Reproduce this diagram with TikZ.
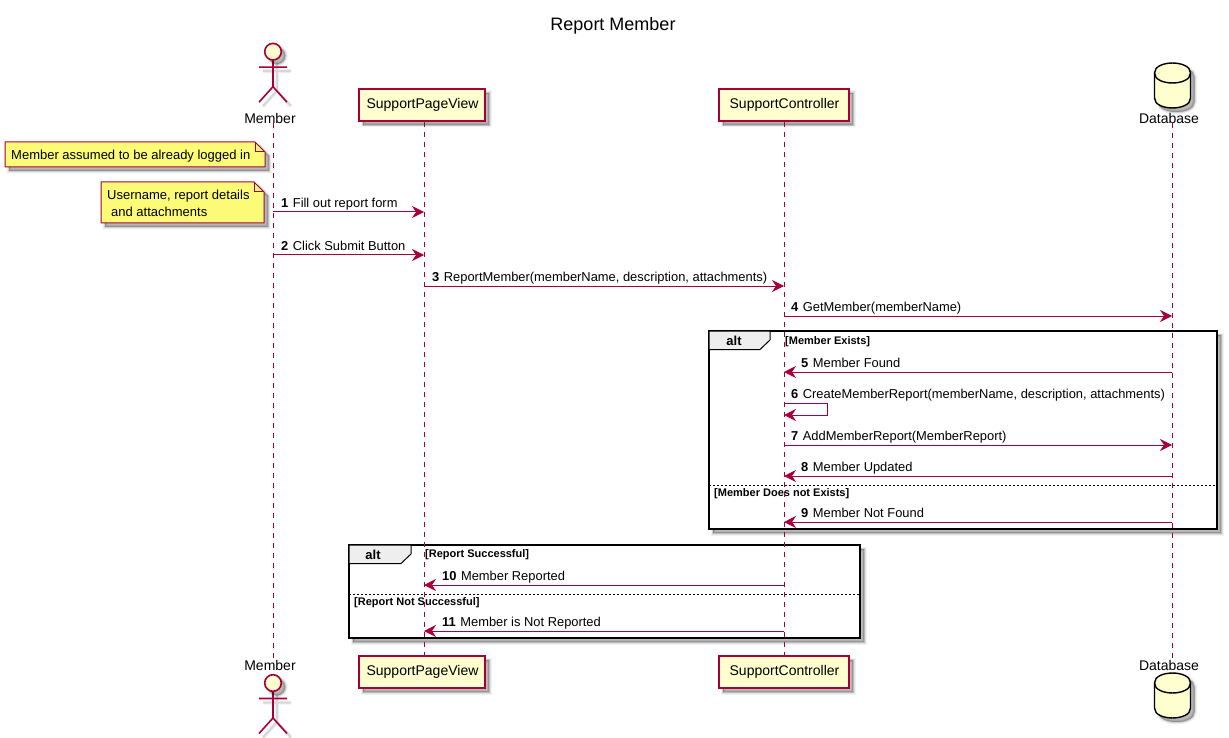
\documentclass[tikz,border=0pt]{standalone}
\usepackage{fontspec}
\setmainfont{Liberation Sans}
\usetikzlibrary{arrows.meta}
\definecolor{umlred}{HTML}{A80036}
\definecolor{umlfill}{HTML}{FEFECE}
\definecolor{notefill}{HTML}{FBFB77}
\definecolor{tabfill}{HTML}{EEEEEE}
\newcommand{\fs}[1]{\fontsize{#1}{#1}\selectfont}
\newcommand{\lowered}[1]{\raisebox{-1.5pt}{\hspace{1pt}#1}}
\tikzset{
  softshadow/.style={
    preaction={draw=black,fill=black,line width=5pt,opacity=.05,transform canvas={shift={(4pt,-4pt)}}},
    preaction={draw=black,fill=black,line width=3pt,opacity=.07,transform canvas={shift={(4pt,-4pt)}}},
    preaction={draw=black,fill=black,line width=1.5pt,opacity=.08,transform canvas={shift={(4pt,-4pt)}}},
    preaction={draw=black,fill=black,line width=.5pt,opacity=.09,transform canvas={shift={(4pt,-4pt)}}}},
  strokeshadow/.style={
    preaction={draw=black,line width=4pt,opacity=.06,transform canvas={shift={(4pt,-4pt)}}},
    preaction={draw=black,line width=2pt,opacity=.10,transform canvas={shift={(4pt,-4pt)}}}},
  partbox/.style={draw=umlred,fill=umlfill,line width=1.2pt,softshadow,minimum width=126pt,minimum height=32pt,inner sep=0pt,font=\fs{14}},
  namelabel/.style={font=\fs{14},inner sep=0pt,text=black},
  lifeline/.style={draw=umlred,line width=1pt,dash pattern=on 5pt off 5pt},
  msgline/.style={draw=umlred,line width=1pt,-{Stealth[length=12pt,width=12pt,inset=4pt]}},
  msgtext/.style={font=\fs{12.9},inner sep=0pt,anchor=base west,text=black},
  notebox/.style={draw=umlred,fill=notefill,line width=1pt,softshadow},
  notefold/.style={draw=umlred,line width=1pt},
  notetext/.style={font=\fs{13},inner sep=0pt,anchor=west,align=left,text=black},
  frameline/.style={draw=black,fill=white,line width=2pt,softshadow},
  tabshape/.style={draw=black,line width=1pt,fill=tabfill},
  altlabel/.style={font=\fs{13}\bfseries,inner sep=0pt,text=black},
  guardtext/.style={font=\fs{11}\bfseries,inner sep=0pt,anchor=west,text=black},
  separator/.style={draw=black,line width=.8pt,dash pattern=on 2pt off 2pt},
  actorpic/.pic={
    \draw[umlred,line width=1.6pt,strokeshadow] (0,8) -- (0,35) (-14,15.5) -- (14,15.5) (-14,50.5) -- (0,35) -- (14,50.5);
    \draw[umlred,line width=1.6pt,fill=umlfill,softshadow] (0,0) circle (8.3pt);
  },
  cylpic/.pic={
    \path[draw=black,line width=1.4pt,fill=umlfill,softshadow] (-18,10) -- (-18,35) .. controls (-18,48.3) and (18,48.3) .. (18,35) -- (18,10) .. controls (18,-3.3) and (-18,-3.3) .. (-18,10) -- cycle;
    \draw[black,line width=1.4pt] (-18,10) .. controls (-18,23.3) and (18,23.3) .. (18,10);
  },
}
% #1 id, #2 y, #3 from lifeline, #4 to lifeline, #5 number, #6 text, #7 x of number
\newcommand{\Msg}[7]{%
  \coordinate (a#1) at (#3 |- 0,#2);
  \coordinate (b#1) at (#4 |- 0,#2);
  \draw[msgline] (a#1) -- (b#1);
  \node[msgtext] (t#1) at (#7,#2-4.5) {\textbf{#5}\hspace{4.5pt}#6};
}
\begin{document}
\begin{tikzpicture}[x=1pt,y=-1pt]
\useasboundingbox (0,0) rectangle (1229,738);
\fill[white] (0,0) rectangle (1229,738);

\node[font=\fs{18},inner sep=0pt] (title) at (613,25.5) {Report Member};

% lifeline anchors
\coordinate (lM) at (273,0);
\coordinate (lP) at (424,0);
\coordinate (lC) at (784,0);
\coordinate (lD) at (1172,0);

% participants top
\pic at (273,51.7) {actorpic};
\node[namelabel] (memT) at (270,118) {Member};
\node[partbox] (pvT) at (422,105) {\lowered{SupportPageView}};
\node[partbox,minimum width=130pt] (ctT) at (784,105) {\lowered{SupportController}};
\pic at (1172.5,63) {cylpic};
\node[namelabel] (dbT) at (1169,118) {Database};

% participants bottom
\pic at (273,683) {actorpic};
\node[namelabel] (memB) at (270,665) {Member};
\node[partbox] (pvB) at (422,672) {\lowered{SupportPageView}};
\node[partbox,minimum width=130pt] (ctB) at (784,672) {\lowered{SupportController}};
\pic at (1172.5,673) {cylpic};
\node[namelabel] (dbB) at (1169,665) {Database};

% frames
\path[frameline] (709,331) rectangle (1217,529);
\path[frameline] (349,545) rectangle (860,638);
\path[tabshape] (709,331) -- (770,331) -- (770,340) -- (760,349.5) -- (709,349.5) -- cycle;
\path[tabshape] (349,545) -- (411,545) -- (411,554) -- (401,563.5) -- (349,563.5) -- cycle;
\node[altlabel] (alt1) at (734,341) {alt};
\node[altlabel] (alt2) at (373,555) {alt};
\node[guardtext] (g1) at (785,342) {[Member Exists]};
\node[guardtext] (g2) at (714,494) {[Member Does not Exists]};
\node[guardtext] (g3) at (425,555) {[Report Successful]};
\node[guardtext] (g4) at (354,603) {[Report Not Successful]};
\draw[separator] (709,485) -- (1217,485);
\draw[separator] (349,594) -- (860,594);

% lifelines
\draw[lifeline] (lM |- memT.south) -- (lM |- memB.north);
\draw[lifeline] (lP |- pvT.south) -- (lP |- pvB.north);
\draw[lifeline] (lC |- ctT.south) -- (lC |- ctB.north);
\draw[lifeline] (lD |- dbT.south) -- (lD |- dbB.north);

% notes
\path[notebox] (5,142) -- (255,142) -- (265,152) -- (265,167) -- (5,167) -- cycle;
\draw[notefold] (255,142) -- (255,152) -- (265,152);
\node[notetext] (n1) at (11,156) {Member assumed to be already logged in};
\path[notebox] (101,182) -- (254,182) -- (264,192) -- (264,223) -- (101,223) -- cycle;
\draw[notefold] (254,182) -- (254,192) -- (264,192);
\node[notetext] (n2a) at (107,196) {Username, report details};
\node[notetext] (n2b) at (111,212) {and attachments};

% messages
\Msg{1}{212}{lM}{lP}{1}{Fill out report form}{281}
\Msg{2}{255}{lM}{lP}{2}{Click Submit Button}{281}
\Msg{3}{286}{lP}{lC}{3}{ReportMember(memberName, description, attachments)}{432}
\Msg{4}{316}{lC}{lD}{4}{GetMember(memberName)}{791}
\Msg{5}{372}{lD}{lC}{5}{Member Found}{801}
% self message
\coordinate (a6) at (lC |- 0,403);
\coordinate (c6) at (827,403);
\coordinate (d6) at (827,415);
\coordinate (b6) at (lC |- 0,415);
\draw[msgline] (a6) -- (c6) -- (d6) -- (b6);
\node[msgtext] (t6) at (791,398.5) {\textbf{6}\hspace{4.5pt}CreateMemberReport(memberName, description, attachments)};
\Msg{7}{445}{lC}{lD}{7}{AddMemberReport(MemberReport)}{791}
\Msg{8}{476}{lD}{lC}{8}{Member Updated}{801}
\Msg{9}{522}{lD}{lC}{9}{Member Not Found}{801}
\Msg{10}{585}{lC}{lP}{10}{Member Reported}{442}
\Msg{11}{631}{lC}{lP}{11}{Member is Not Reported}{442}
\end{tikzpicture}
\end{document}
